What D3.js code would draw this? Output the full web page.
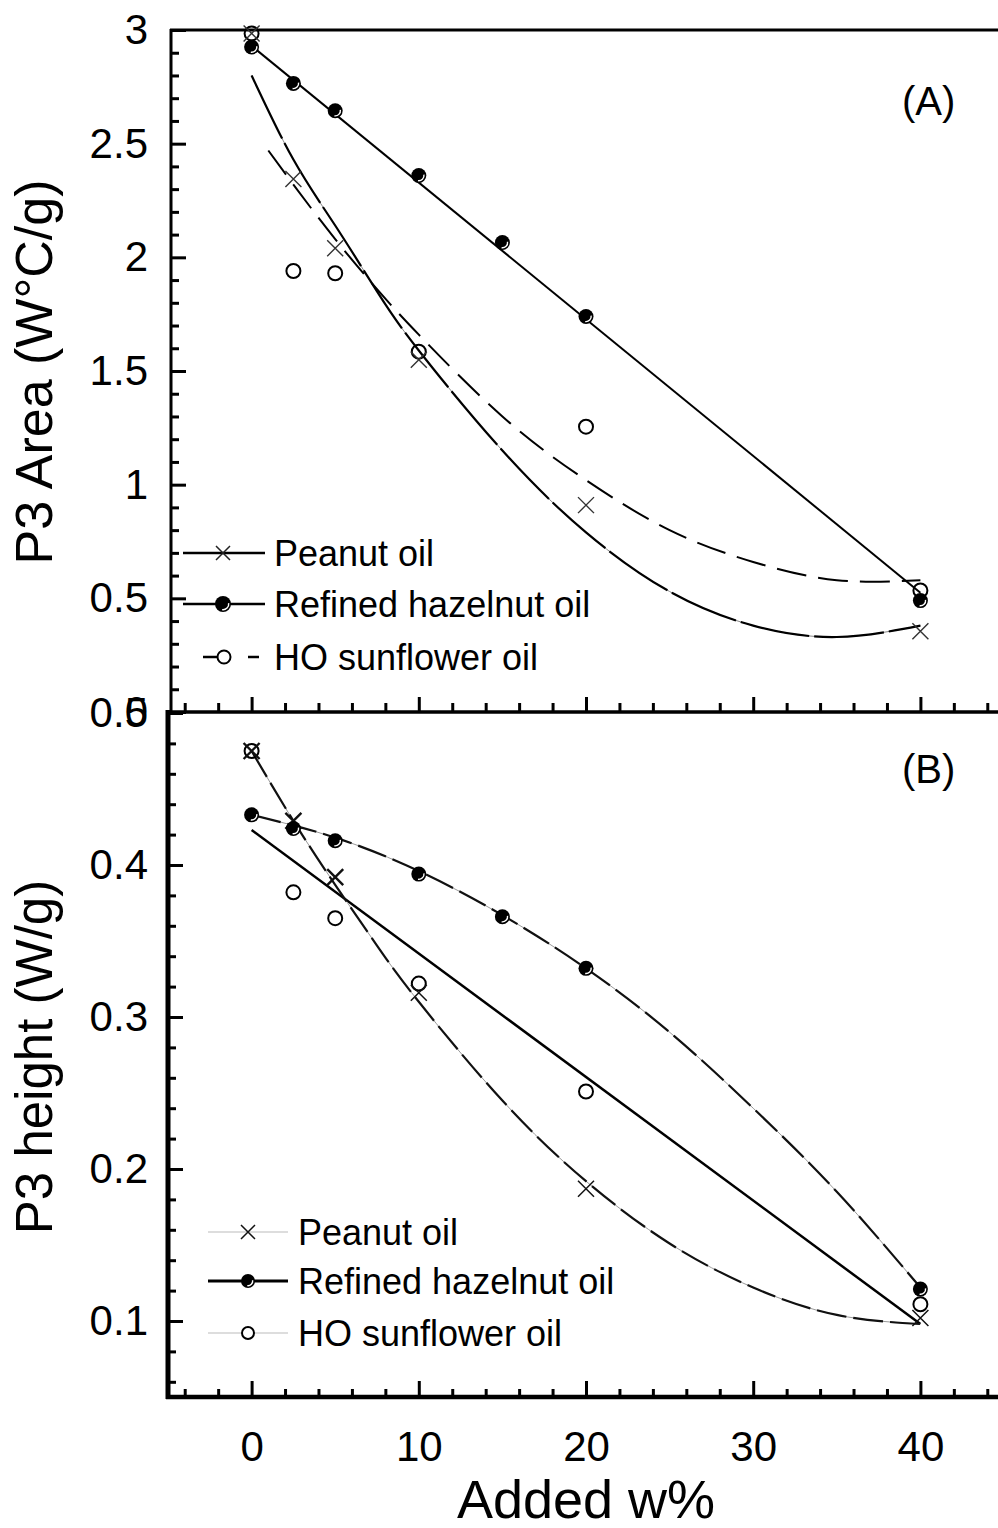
<!DOCTYPE html>
<html>
<head>
<meta charset="utf-8">
<script src="https://cdn.jsdelivr.net/npm/d3@7"></script>
<style>
  body { margin: 0; background: #fff; }
  text { font-family: "Liberation Sans", Arial, sans-serif; fill: #000; }
</style>
</head>
<body>
<div id="chart"></div>
<script>
// ---- data ----
// panel A : P3 area (W°C/g)
const peanutX = [0, 2.5, 5, 10, 20, 40];
const peanutArea = [2.985, 2.345, 2.04, 1.55, 0.91, 0.355];
const hazelX = [0, 2.5, 5, 10, 15, 20, 40];
const hazelArea = [2.925, 2.765, 2.645, 2.36, 2.065, 1.74, 0.49];
const sunX = [0, 2.5, 5, 10, 20, 40];
const sunArea = [2.985, 1.94, 1.93, 1.585, 1.255, 0.535];

// fitted curves in panel A (traced)
const peanutAreaFitX = [0, 2.5, 5, 7.5, 10, 15, 20, 25, 30, 35, 40];
const peanutAreaFit = [2.80, 2.43, 2.14, 1.85, 1.59, 1.15, 0.79, 0.53, 0.38, 0.33, 0.38];
const sunAreaFitX = [1, 2.5, 5, 7.5, 10, 15, 20, 25, 30, 35, 40];
const sunAreaFit = [2.47, 2.32, 2.08, 1.86, 1.66, 1.30, 1.02, 0.80, 0.66, 0.58, 0.58];
const hazelAreaFitX = [0, 40];
const hazelAreaFit = [2.93, 0.525];

// panel B : P3 height (W/g)
const peanutHeight = [0.475, 0.429, 0.392, 0.316, 0.187, 0.102];
const hazelHeight = [0.433, 0.424, 0.416, 0.394, 0.366, 0.332, 0.121];
const sunHeight = [0.475, 0.382, 0.365, 0.322, 0.251, 0.111];

const peanutHeightFitX = [0, 2.5, 5, 7.5, 10, 15, 20, 25, 30, 35, 40];
const peanutHeightFit = [0.475, 0.429, 0.387, 0.347, 0.31, 0.245, 0.192, 0.151, 0.122, 0.104, 0.098];
const hazelHeightFitX = [0, 5, 10, 15, 20, 25, 30, 35, 40];
const hazelHeightFit = [0.433, 0.418, 0.396, 0.367, 0.332, 0.29, 0.24, 0.185, 0.122];
const sunHeightFitX = [0, 40];
const sunHeightFit = [0.423, 0.098];

// ticks
const xMajor = [0, 10, 20, 30, 40];
const yMajorA = [0, 0.5, 1, 1.5, 2, 2.5, 3];
const yMajorB = [0.1, 0.2, 0.3, 0.4, 0.5];
const seriesNames = ["Peanut oil", "Refined hazelnut oil", "HO sunflower oil"];

// ---- drawing ----
const width = 998, height = 1528;
const svg = d3.select("#chart").append("svg")
    .attr("width", width).attr("height", height);

const x = d3.scaleLinear().domain([-5, 45]).range([168, 1004]);
const yA = d3.scaleLinear().domain([0, 3]).range([712, 30]);
const yB = d3.scaleLinear().domain([0.05, 0.5]).range([1397, 713]);

const xMinor = d3.range(-4, 45, 2).filter(v => v % 10 !== 0);
const yMinorA = d3.range(0, 31, 1).map(v => v / 10).filter(v => Math.round(v * 10) % 5 !== 0);
const yMinorB = d3.range(3, 26, 1).map(v => v / 50).filter(v => Math.round(v * 50) % 5 !== 0);

function styleAxis(g, w) {
  g.select(".domain").remove();
  g.selectAll(".tick line").attr("stroke", "#000").attr("stroke-width", w);
  g.selectAll(".tick text").attr("font-size", "42px").style("font-family", "Liberation Sans, Arial, sans-serif");
}

// y axis panel A
const gA = svg.append("g").attr("transform", "translate(171,0)");
gA.append("g").call(d3.axisLeft(yA).tickValues(yMinorA).tickSize(-8).tickFormat("")).call(styleAxis, 3);
gA.append("g").call(d3.axisLeft(yA).tickValues(yMajorA).tickSize(-15).tickPadding(23).tickFormat(d => String(d))).call(styleAxis, 3);

// y axis panel B
const gB = svg.append("g").attr("transform", "translate(168,0)");
gB.append("g").call(d3.axisLeft(yB).tickValues(yMinorB).tickSize(-8).tickFormat("")).call(styleAxis, 3);
gB.append("g").call(d3.axisLeft(yB).tickValues(yMajorB).tickSize(-15).tickPadding(20).tickFormat(d => String(d))).call(styleAxis, 3);

// x axis between the panels (ticks only)
const gMid = svg.append("g").attr("transform", "translate(0,712)");
gMid.append("g").call(d3.axisBottom(x).tickValues(xMinor).tickSize(-9).tickFormat("")).call(styleAxis, 3);
gMid.append("g").call(d3.axisBottom(x).tickValues(xMajor).tickSize(-15).tickFormat("")).call(styleAxis, 3);

// x axis at the bottom
const gBot = svg.append("g").attr("transform", "translate(0,1397)");
gBot.append("g").call(d3.axisBottom(x).tickValues(xMinor).tickSize(-8).tickFormat("")).call(styleAxis, 3);
gBot.append("g").call(d3.axisBottom(x).tickValues(xMajor).tickSize(-16).tickPadding(34).tickFormat(d => String(d))).call(styleAxis, 3);

// frame lines
svg.append("line").attr("x1", 170).attr("x2", width).attr("y1", 30).attr("y2", 30)
  .attr("stroke", "#000").attr("stroke-width", 3);
svg.append("line").attr("x1", 171).attr("x2", 171).attr("y1", 29).attr("y2", 712)
  .attr("stroke", "#000").attr("stroke-width", 3);
svg.append("line").attr("x1", 166).attr("x2", width).attr("y1", 712).attr("y2", 712)
  .attr("stroke", "#000").attr("stroke-width", 3.5);
svg.append("line").attr("x1", 168).attr("x2", 168).attr("y1", 710).attr("y2", 1399)
  .attr("stroke", "#000").attr("stroke-width", 5);
svg.append("line").attr("x1", 166).attr("x2", width).attr("y1", 1397).attr("y2", 1397)
  .attr("stroke", "#000").attr("stroke-width", 4.5);

// ---- curves ----
function drawLine(xs, ys, yScale, opts) {
  const pts = xs.map((v, i) => [x(v), yScale(ys[i])]);
  const line = d3.line().curve(xs.length > 2 ? d3.curveNatural : d3.curveLinear);
  const p = svg.append("path").attr("d", line(pts))
    .attr("fill", "none")
    .attr("stroke", opts.color || "#000")
    .attr("stroke-width", opts.width || 2);
  if (opts.dash) p.attr("stroke-dasharray", opts.dash);
  return p;
}

// panel A
drawLine(hazelAreaFitX, hazelAreaFit, yA, { width: 2 });
drawLine(peanutAreaFitX, peanutAreaFit, yA, { width: 1, color: "#888" });
drawLine(peanutAreaFitX, peanutAreaFit, yA, { width: 2.2, dash: "70,5" });
drawLine(sunAreaFitX, sunAreaFit, yA, { width: 2, dash: "30,12" });

// panel B
drawLine(sunHeightFitX, sunHeightFit, yB, { width: 2.5 });
drawLine(peanutHeightFitX, peanutHeightFit, yB, { width: 1, color: "#999" });
drawLine(peanutHeightFitX, peanutHeightFit, yB, { width: 2.2, color: "#111", dash: "30,7" });
drawLine(hazelHeightFitX, hazelHeightFit, yB, { width: 1, color: "#999" });
drawLine(hazelHeightFitX, hazelHeightFit, yB, { width: 2.2, color: "#111", dash: "30,7" });

// ---- markers ----
function cross(g, cx, cy, s, w, color) {
  g.append("path")
    .attr("d", `M${cx - s},${cy - s}L${cx + s},${cy + s}M${cx - s},${cy + s}L${cx + s},${cy - s}`)
    .attr("stroke", color).attr("stroke-width", w).attr("fill", "none");
}
function filledDot(g, cx, cy, r) {
  g.append("circle").attr("cx", cx).attr("cy", cy).attr("r", r).attr("fill", "#000");
  g.append("path")
    .attr("transform", `translate(${cx},${cy})`)
    .attr("d", d3.arc().innerRadius(r - 3).outerRadius(r - 1.6).startAngle(Math.PI * 0.45).endAngle(Math.PI * 1.05)())
    .attr("fill", "#fff");
}
function openDot(g, cx, cy, r) {
  g.append("circle").attr("cx", cx).attr("cy", cy).attr("r", r)
    .attr("fill", "none").attr("stroke", "#000").attr("stroke-width", 2);
}

const marks = svg.append("g");
sunX.forEach((v, i) => openDot(marks, x(v), yA(sunArea[i]), 7));
peanutX.forEach((v, i) => cross(marks, x(v), yA(peanutArea[i]), 8, 1.4, "#333"));
hazelX.forEach((v, i) => filledDot(marks, x(v), yA(hazelArea[i]), 7.5));

sunX.forEach((v, i) => openDot(marks, x(v), yB(sunHeight[i]), 7));
peanutX.forEach((v, i) => cross(marks, x(v), yB(peanutHeight[i]), 8, i < 3 ? 2.4 : 1.5, "#111"));
hazelX.forEach((v, i) => filledDot(marks, x(v), yB(hazelHeight[i]), 7.5));

// ---- legends ----
const legA = svg.append("g");
const rowsA = [553, 604, 657];
legA.append("line").attr("x1", 183).attr("x2", 265).attr("y1", rowsA[0]).attr("y2", rowsA[0]).attr("stroke", "#000").attr("stroke-width", 2.5);
cross(legA, 223, rowsA[0], 7, 1.5, "#222");
legA.append("line").attr("x1", 183).attr("x2", 265).attr("y1", rowsA[1]).attr("y2", rowsA[1]).attr("stroke", "#000").attr("stroke-width", 2.5);
filledDot(legA, 223, rowsA[1], 8);
legA.append("line").attr("x1", 203).attr("x2", 217).attr("y1", rowsA[2]).attr("y2", rowsA[2]).attr("stroke", "#000").attr("stroke-width", 2.5);
openDot(legA, 224, rowsA[2], 6.5);
legA.append("line").attr("x1", 248).attr("x2", 259).attr("y1", rowsA[2]).attr("y2", rowsA[2]).attr("stroke", "#000").attr("stroke-width", 2.5);
legA.selectAll("text").data(seriesNames).enter().append("text")
  .attr("x", 274).attr("y", (d, i) => rowsA[i] + 13)
  .attr("font-size", "36px").text(d => d);

const legB = svg.append("g");
const rowsB = [1232, 1281, 1333];
legB.append("line").attr("x1", 208).attr("x2", 288).attr("y1", rowsB[0]).attr("y2", rowsB[0]).attr("stroke", "#bbb").attr("stroke-width", 1.2);
cross(legB, 248, rowsB[0], 7, 1.5, "#111");
legB.append("line").attr("x1", 208).attr("x2", 288).attr("y1", rowsB[1]).attr("y2", rowsB[1]).attr("stroke", "#000").attr("stroke-width", 3);
filledDot(legB, 248, rowsB[1], 7);
legB.append("line").attr("x1", 208).attr("x2", 288).attr("y1", rowsB[2]).attr("y2", rowsB[2]).attr("stroke", "#bbb").attr("stroke-width", 1.2);
legB.append("circle").attr("cx", 248).attr("cy", rowsB[2]).attr("r", 6).attr("fill", "#fff").attr("stroke", "#000").attr("stroke-width", 2);
legB.selectAll("text").data(seriesNames).enter().append("text")
  .attr("x", 298).attr("y", (d, i) => rowsB[i] + 13)
  .attr("font-size", "36px").text(d => d);

// ---- labels ----
svg.append("text").attr("x", 902).attr("y", 115).attr("font-size", "40px").text("(A)");
svg.append("text").attr("x", 902).attr("y", 783).attr("font-size", "40px").text("(B)");

svg.append("text").attr("transform", "translate(52,372) rotate(-90)")
  .attr("text-anchor", "middle").attr("font-size", "52px").text("P3 Area (W°C/g)");
svg.append("text").attr("transform", "translate(52,1057) rotate(-90)")
  .attr("text-anchor", "middle").attr("font-size", "51px").text("P3 height (W/g)");
svg.append("text").attr("x", 586).attr("y", 1518)
  .attr("text-anchor", "middle").attr("font-size", "54px").text("Added w%");
</script>
</body>
</html>
